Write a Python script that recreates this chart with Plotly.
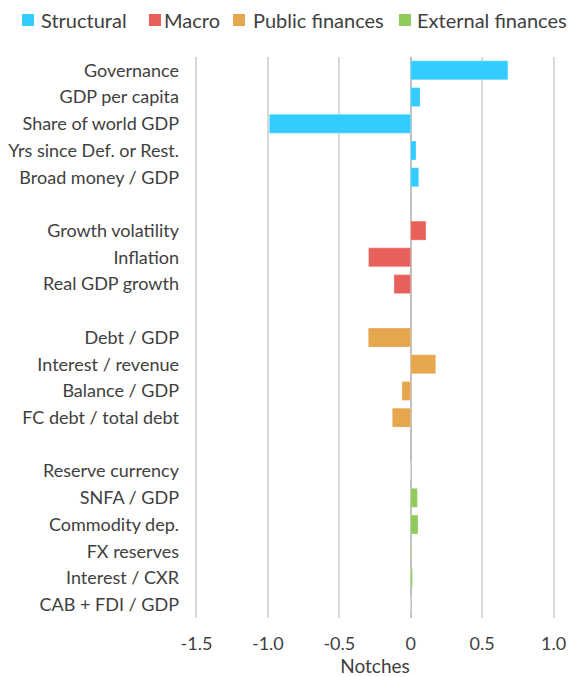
import plotly.graph_objects as go

structural_labels = ["Governance", "GDP per capita", "Share of world GDP", "Yrs since Def. or Rest.", "Broad money / GDP"]
structural_values = [0.68, 0.065, -0.99, 0.037, 0.056]

macro_labels = ["Growth volatility", "Inflation", "Real GDP growth"]
macro_values = [0.107, -0.295, -0.117]

public_labels = ["Debt / GDP", "Interest / revenue", "Balance / GDP", "FC debt / total debt"]
public_values = [-0.297, 0.175, -0.061, -0.129]

external_labels = ["Reserve currency", "SNFA / GDP", "Commodity dep.", "FX reserves", "Interest / CXR", "CAB + FDI / GDP"]
external_values = [0.0, 0.047, 0.051, -0.004, 0.012, 0.0]

tick_vals = [-1.5, -1.0, -0.5, 0, 0.5, 1.0]
tick_text = ["-1.5", "-1.0", "-0.5", "0", "0.5", "1.0"]

groups = [
    ("Structural", structural_labels, structural_values, "#33CCFF"),
    ("Macro", macro_labels, macro_values, "#E8605A"),
    ("Public finances", public_labels, public_values, "#E6A64E"),
    ("External finances", external_labels, external_values, "#8FCB5A"),
]

W, H = 568, 677
ML, MR, MT, MB = 195, 13, 57, 59
PW, PH = W - ML - MR, H - MT - MB

def px_x(px):
    return (px - ML) / PW

def px_y(py):
    return (H - MB - py) / PH

category_order = []
for i, (_, labels, _, _) in enumerate(groups):
    category_order += labels
    if i < len(groups) - 1:
        category_order.append(" " * (i + 1))

fig = go.Figure()
for name, labels, values, color in groups:
    fig.add_trace(go.Bar(
        x=values, y=labels, name=name, orientation="h",
        marker=dict(color=color, line=dict(color="rgba(255,255,255,0.5)", width=0.5)),
        showlegend=False,
    ))

text_color = "#404040"
font_family = "Lato, 'Open Sans', sans-serif"

# legend drawn as squares + text along the top
legend_square_x = [22, 149, 233, 399]
legend_text_x = [39, 162, 251, 415]
legend_y = 20
sq = 12
for (name, _, _, color), sx, tx in zip(groups, legend_square_x, legend_text_x):
    fig.add_shape(type="rect", xref="paper", yref="paper",
                  x0=px_x(sx), x1=px_x(sx + sq),
                  y0=px_y(legend_y + sq / 2), y1=px_y(legend_y - sq / 2),
                  fillcolor=color, line=dict(width=0))
    fig.add_annotation(text=name, xref="paper", yref="paper",
                       x=px_x(tx), y=px_y(legend_y), xanchor="left", yanchor="middle",
                       showarrow=False, font=dict(size=20, color=text_color, family=font_family))

fig.update_layout(
    width=W, height=H,
    margin=dict(l=ML, r=MR, t=MT, b=MB),
    paper_bgcolor="white", plot_bgcolor="white",
    barmode="relative", bargap=0.29,
    font=dict(family=font_family, size=18, color=text_color),
    showlegend=False,
)
fig.update_xaxes(range=[-1.51, 1.01], tickvals=tick_vals, ticktext=tick_text,
                 showgrid=True, gridcolor="#D9D9D9", gridwidth=1.5,
                 zeroline=True, zerolinecolor="#BFBFBF", zerolinewidth=1.5,
                 tickfont=dict(size=18, color=text_color),
                 title=dict(text="Notches", font=dict(size=19, color=text_color), standoff=3),
                 ticks="", showline=False, automargin=False, ticklabelstandoff=13)
fig.update_yaxes(type="category", categoryorder="array", categoryarray=category_order,
                 autorange="reversed", showgrid=False, ticks="", showline=False,
                 tickfont=dict(size=18, color=text_color), ticklabelstandoff=15,
                 automargin=False)

fig.write_html("out.html", config={"displayModeBar": False},
               post_script="document.body.style.margin='0';document.body.style.overflow='hidden';")
